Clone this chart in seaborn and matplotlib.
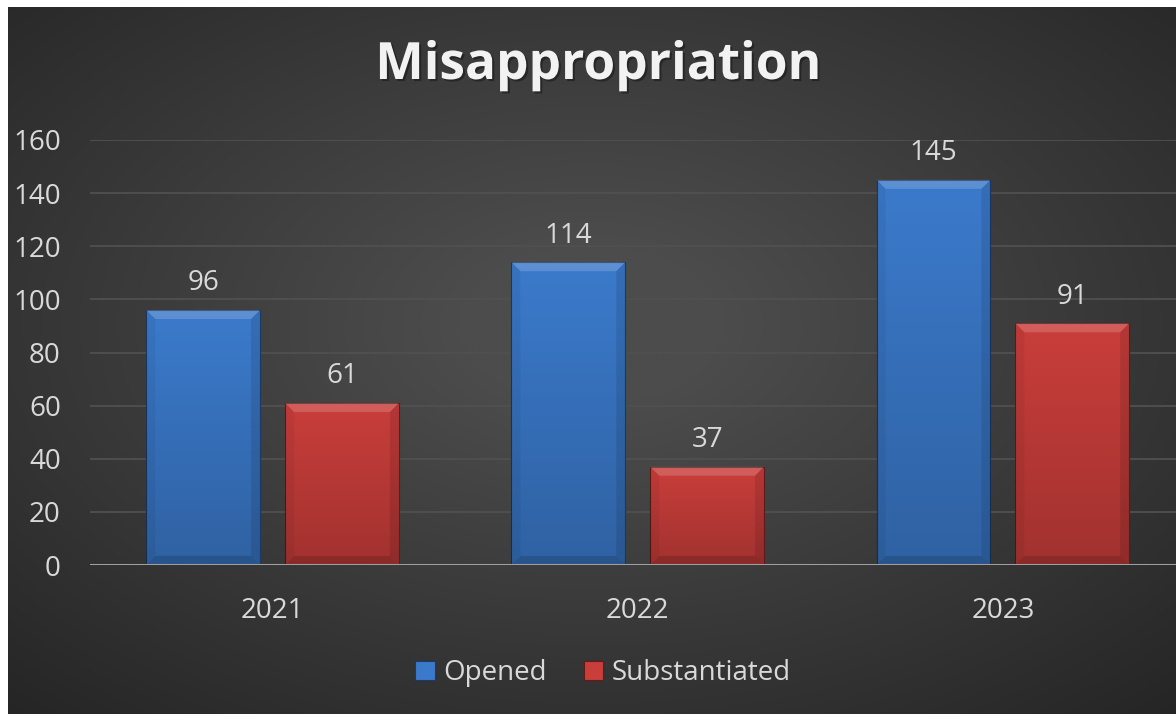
import numpy as np
import pandas as pd
import matplotlib
matplotlib.use("Agg")
import matplotlib.pyplot as plt
import matplotlib.patheffects as pe
from matplotlib.colors import LinearSegmentedColormap
from matplotlib.patches import Polygon, Patch
import seaborn as sns

## data
years = ["2021", "2022", "2023"]
opened = [96, 114, 145]
substantiated = [61, 37, 91]
series_names = ["Opened", "Substantiated"]
y_ticks = [0, 20, 40, 60, 80, 100, 120, 140, 160]

df = pd.DataFrame({
    "Year": years * 2,
    "Status": [series_names[0]] * len(years) + [series_names[1]] * len(years),
    "Count": opened + substantiated,
})

## setting
sns.set_theme(style="dark")
plt.rcParams['font.family'] = ['Open Sans', 'DejaVu Sans']
txt_color = "#d9d9d9"
colors = {"Opened": "#3b7acb", "Substantiated": "#c93e3b"}
edges = {"Opened": "#1d3a63", "Substantiated": "#5e1c1b"}

W, H = 1176, 714
fig = plt.figure(figsize=(W / 100, H / 100), dpi=100)
fig.patch.set_facecolor("white")

## dark radial background (white strip at top and left)
bg = fig.add_axes([8 / W, 0, 1 - 8 / W, 1 - 7 / H])
yy, xx = np.mgrid[0:1:300j, 0:1:500j]
r = np.sqrt(((xx - 0.5) / 0.75) ** 2 + ((yy - 0.45) / 0.75) ** 2)
bg_cmap = LinearSegmentedColormap.from_list("bg", ["#252525", "#4c4c4c"])
bg.imshow(np.clip(1 - r, 0, 1), cmap=bg_cmap, aspect="auto", extent=[0, 1, 0, 1], vmin=0, vmax=0.85)
bg.set_axis_off()

## main axes
ax = fig.add_axes([90 / W, 1 - 565 / H, 1 - 90 / W, (565 - 140) / H])
ax.set_facecolor("none")
sns.barplot(data=df, x="Year", y="Count", hue="Status", palette=colors,
            width=0.76, gap=0.18, ax=ax, legend=False, zorder=3,
            linewidth=0.8, saturation=1)
ax.set_xlim(-0.5, 2.474)
ax.set_ylim(0, 160)
ax.set_yticks(y_ticks)
ax.grid(axis="y", color="#505050", linewidth=1.3, zorder=0)
ax.grid(axis="x", visible=False)
for s in ax.spines.values():
    s.set_visible(False)
ax.axhline(0, color="#9f9f9f", linewidth=2.2, zorder=6)
ax.set_xlabel("")
ax.set_ylabel("")
ax.tick_params(axis="y", colors=txt_color, labelsize=20, pad=21, length=0)
ax.tick_params(axis="x", colors=txt_color, labelsize=20, pad=23, length=0)

## bevel look on every bar
px_x = (ax.transData.transform((1, 0))[0] - ax.transData.transform((0, 0))[0])
px_y = (ax.transData.transform((0, 1))[1] - ax.transData.transform((0, 0))[1])
bx, by = 9 / px_x, 9 / px_y
for cont, name in zip(ax.containers, series_names):
    for bar in cont:
        bar.set_edgecolor(edges[name])
        x0, y0 = bar.get_x(), bar.get_y()
        w, h = bar.get_width(), bar.get_height()
        grad = np.linspace(1, 0, 100).reshape(-1, 1)
        im = ax.imshow(grad, cmap=LinearSegmentedColormap.from_list("g", ["#000000", "#000000"]),
                       alpha=np.linspace(0, 0.2, 100).reshape(-1, 1) * np.ones((1, 2)),
                       extent=[x0, x0 + w, y0, y0 + h], aspect="auto", zorder=4)
        im.set_clip_path(bar)
        # top bevel (light), side and bottom bevels (dark)
        ax.add_patch(Polygon([(x0, y0 + h), (x0 + w, y0 + h), (x0 + w - bx, y0 + h - by), (x0 + bx, y0 + h - by)],
                             closed=True, facecolor="white", alpha=0.17, edgecolor="none", zorder=5))
        ax.add_patch(Polygon([(x0, y0 + h), (x0 + bx, y0 + h - by), (x0 + bx, y0 + by), (x0, y0)],
                             closed=True, facecolor="black", alpha=0.05, edgecolor="none", zorder=5))
        ax.add_patch(Polygon([(x0 + w, y0 + h), (x0 + w - bx, y0 + h - by), (x0 + w - bx, y0 + by), (x0 + w, y0)],
                             closed=True, facecolor="black", alpha=0.10, edgecolor="none", zorder=5))
        ax.add_patch(Polygon([(x0, y0), (x0 + bx, y0 + by), (x0 + w - bx, y0 + by), (x0 + w, y0)],
                             closed=True, facecolor="black", alpha=0.14, edgecolor="none", zorder=5))
ax.set_xlim(-0.5, 2.474)
ax.set_ylim(0, 160)

## data labels
for cont in ax.containers:
    ax.bar_label(cont, padding=9, color=txt_color, fontsize=20)

## title
fig.text(598 / W, 1 - 66 / H, "Misappropriation", ha="center", va="center",
         fontsize=37, fontweight="bold", color="#f2f2f2",
         path_effects=[pe.withSimplePatchShadow(offset=(1.5, -1.5), shadow_rgbFace="black", alpha=0.35)])

## legend
handles = [Patch(facecolor=colors[n], edgecolor=edges[n], linewidth=0.8) for n in series_names]
fig.legend(handles, series_names, loc="center", bbox_to_anchor=(603 / W, 1 - 673 / H),
           ncol=2, frameon=False, fontsize=20, labelcolor=txt_color,
           handlelength=0.7, handleheight=0.7, handletextpad=0.3, columnspacing=1.35)

plt.savefig("out.png", dpi=100, facecolor=fig.get_facecolor())
